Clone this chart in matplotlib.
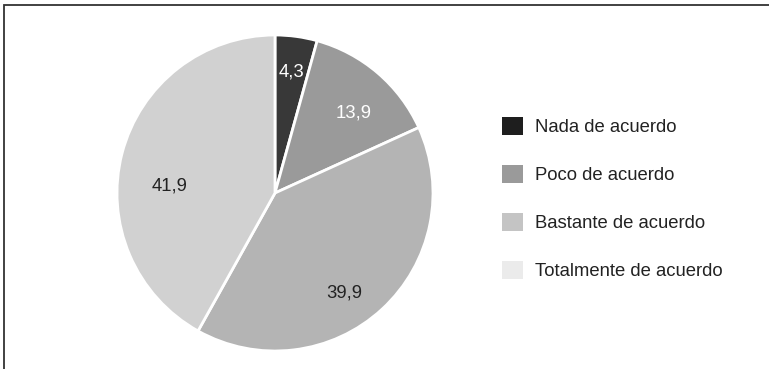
import matplotlib
matplotlib.use("Agg")
import matplotlib.pyplot as plt
from matplotlib.patches import Patch, Rectangle
import numpy as np

plt.rcParams['font.family'] = ['Liberation Sans', 'DejaVu Sans']

categories = ['Nada de acuerdo', 'Poco de acuerdo',
              'Bastante de acuerdo', 'Totalmente de acuerdo']
values = [4.3, 13.9, 39.9, 41.9]
value_labels = ['4,3', '13,9', '39,9', '41,9']

slice_colors = ['#383838', '#9a9a9a', '#b4b4b4', '#d1d1d1']
legend_colors = ['#1e1e1e', '#9a9a9a', '#c4c4c4', '#ebebeb']
label_colors = ['white', 'white', '#222222', '#222222']
# radial distance and angular shift (deg) of each value label
label_dist = [0.77, 0.71, 0.77, 0.67]
label_shift = [0.0, -4.0, -7.7, 11.0]

fig = plt.figure(figsize=(7.69, 3.69), dpi=100)
fig.patch.set_facecolor('white')

# pie axes: centre ~ (275, 193) px, radius ~ 158 px
r_px = 158
cx, cy = 275, 193
ax = fig.add_axes([(cx - r_px) / 769, 1 - (cy + r_px) / 369,
                   2 * r_px / 769, 2 * r_px / 369])

wedges, _ = ax.pie(values, colors=slice_colors, startangle=90,
                   counterclock=False, radius=1.0,
                   wedgeprops=dict(edgecolor='white', linewidth=2))
ax.set_xlim(-1, 1)
ax.set_ylim(-1, 1)
ax.set_aspect('equal')

start = 90.0
total = sum(values)
for v, txt, col, d, sh in zip(values, value_labels, label_colors,
                              label_dist, label_shift):
    sweep = 360.0 * v / total
    mid = np.deg2rad(start - sweep / 2 + sh)
    ax.text(d * np.cos(mid), d * np.sin(mid), txt, ha='center', va='center',
            fontsize=13.3, color=col)
    start -= sweep

handles = [Patch(facecolor=c, edgecolor='none') for c in legend_colors]
fig.legend(handles, categories, loc='center left',
           bbox_to_anchor=(502 / 769, 1 - 198.5 / 369),
           frameon=False, fontsize=13.3, borderpad=0, borderaxespad=0,
           handlelength=1.12, handleheight=1.12, handletextpad=0.65,
           labelspacing=1.55, labelcolor='#222222')

# open frame along top and left edges
fig.add_artist(Rectangle((4 / 769, -0.2), 1.2, 1 - 4.5 / 369 + 0.2,
                         transform=fig.transFigure, fill=False,
                         edgecolor='#333333', linewidth=1.3, clip_on=False))

fig.savefig('out.png', dpi=100, facecolor='white')
